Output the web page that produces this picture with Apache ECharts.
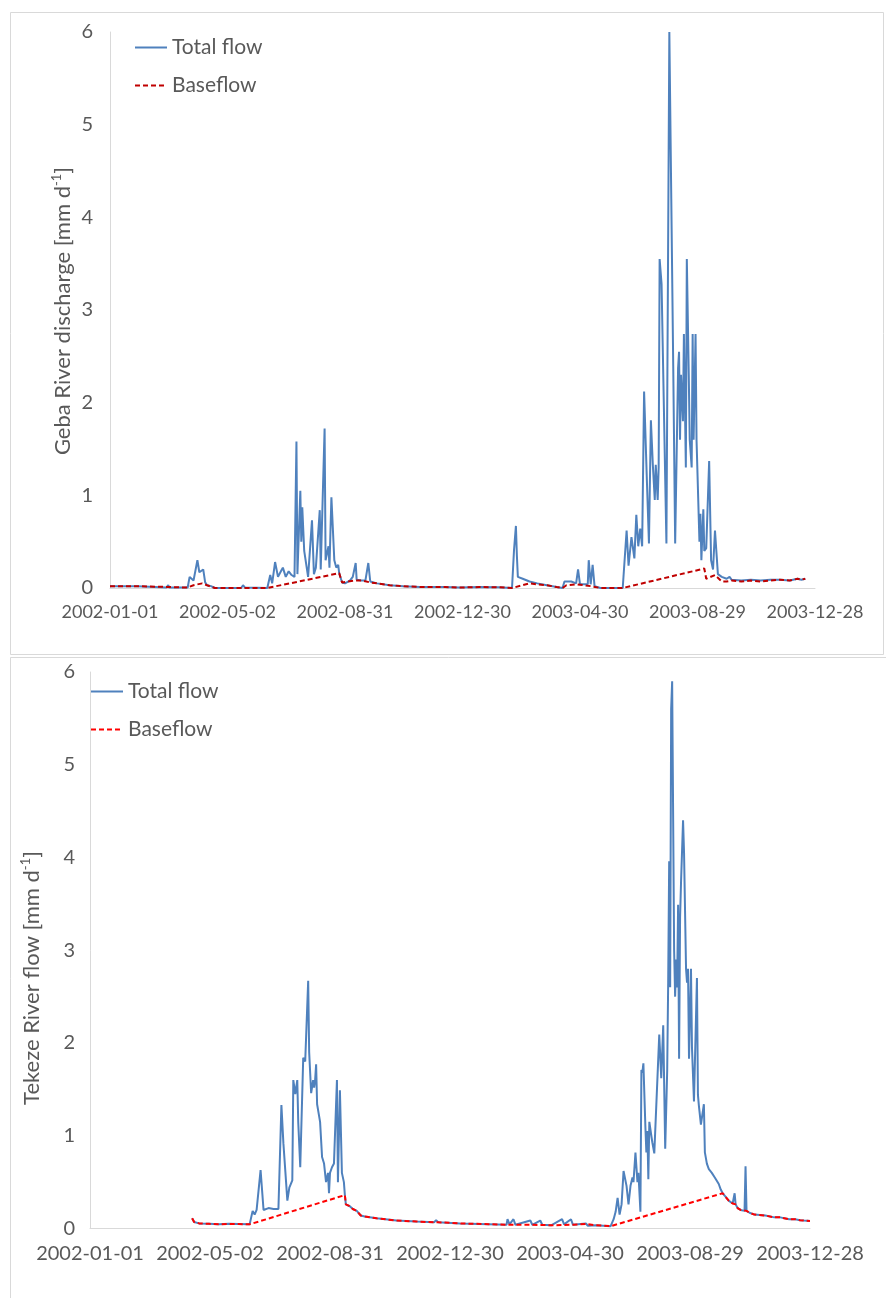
<!DOCTYPE html>
<html>
<head>
<meta charset="utf-8">
<script src="https://cdn.jsdelivr.net/npm/echarts@6/dist/echarts.min.js"></script>
<style>
html,body{margin:0;padding:0;background:#fff;}
#chart{width:886px;height:1298px;}
</style>
</head>
<body>
<div id="chart"></div>
<script>
// x values are day offsets counted from 2002-01-01
const xTickLabels = ['2002-01-01','2002-05-02','2002-08-31','2002-12-30','2003-04-30','2003-08-29','2003-12-28'];
const yTickValues = [0,1,2,3,4,5,6];

const gebaTotal = [
[0,0.02],[28,0.02],[30,0.005],[58,0.005],[60,0.03],[61,0.005],[80,0.005],[82,0.12],[86,0.08],[88,0.1],[90,0.3],[92,0.17],[94,0.15],[96,0.2],[98,0.06],[100,0.03],[104,0.02],[108,0],[135,0],[137,0.03],[139,0.005],[162,0],
[165,0.14],[167,0.05],[170,0.28],[173,0.12],[176,0.18],[178,0.22],[181,0.12],[184,0.18],[187,0.14],[190,0.12],[192,1.58],[193,0.15],[196,1.05],[197,0.5],[198,0.87],[200,0.4],[202,0.4],[204,0.12],[208,0.73],[210,0.15],[212,0.22],[216,0.84],[217,0.2],[221,1.72],[222,0.3],[225,0.45],[226,0.22],[228,0.98],[231,0.3],[233,0.22],[235,0.25],[236,0.16],[239,0.06],[242,0.05],[247,0.08],[250,0.12],[253,0.27],[254,0.09],[259,0.08],[263,0.08],[266,0.27],[268,0.07],[275,0.05],[288,0.03],[302,0.02],[319,0.012],[321,0.025],[323,0.01],[345,0.01],[360,0.005],[380,0.01],[400,0.008],[414,0],
[416,0.4],[418,0.67],[419,0.35],[420,0.12],[425,0.1],[432,0.07],[440,0.05],[450,0.03],[460,0.01],[466,0],[468,0.07],[475,0.07],[480,0.05],[482,0.2],[484,0.04],[492,0.04],[493,0.3],[495,0.04],[497,0.25],[499,0.02],[505,0],[528,0],
[532,0.62],[534,0.24],[537,0.55],[540,0.32],[542,0.79],[544,0.45],[546,0.64],[548,0.45],[550,2.12],[553,1.12],[555,0.48],[557,1.81],[559,1.33],[561,0.95],[562,1.33],[564,0.95],[565,1.3],[566,3.55],[568,3.28],[573,0.48],[576,6.0],[578,4.2],[580,2.4],[582,0.48],[583,0.5],[585,2.37],[586,2.55],[587,1.6],[588,2.3],[590,1.8],[591,2.74],[593,1.3],[594,3.55],[596,2.3],[597,1.6],[599,1.3],[600,2.74],[601,1.6],[603,2.74],[604,1.6],[607,0.5],[608,0.8],[609,0.3],[611,0.85],[612,0.4],[614,0.43],[617,1.37],[619,0.3],[621,0.2],[623,0.62],[626,0.15],[630,0.12],[635,0.1],[638,0.12],[640,0.09],[650,0.08],[660,0.09],[670,0.08],[680,0.09],[690,0.09],[700,0.08],[708,0.1],[712,0.09],[714,0.11],[716,0.1]
];
const gebaBase = [
[0,0.02],[28,0.02],[30,0.005],[80,0.005],[86,0.03],[95,0.05],[100,0.03],[108,0],[162,0],[236,0.16],[239,0.06],[245,0.07],[252,0.08],[260,0.08],[268,0.06],[275,0.05],[288,0.03],[302,0.02],[319,0.012],[345,0.01],[360,0.005],[380,0.01],[400,0.008],[414,0],[432,0.05],[440,0.04],[450,0.03],[460,0.01],[466,0],[470,0.03],[480,0.04],[488,0.03],[495,0.02],[505,0],[528,0],[612,0.21],[614,0.1],[623,0.14],[630,0.07],[635,0.07],[640,0.08],[650,0.07],[660,0.08],[670,0.07],[680,0.08],[690,0.09],[700,0.08],[708,0.1],[712,0.09],[716,0.1]
];
const tekezeTotal = [
[103,0.11],[105,0.07],[110,0.055],[120,0.05],[130,0.045],[140,0.05],[150,0.048],[161,0.045],[164,0.19],[166,0.15],[168,0.2],[172,0.63],[174,0.63],[175,0.2],[180,0.22],[185,0.21],[190,0.21],[193,1.33],[195,0.92],[197,0.9],[199,0.3],[201,0.44],[204,0.52],[205,1.6],[207,1.45],[209,1.6],[210,1.14],[212,0.66],[215,1.84],[217,1.8],[220,2.67],[221,1.9],[223,1.46],[225,1.6],[226,1.52],[227,1.6],[228,1.77],[229,1.34],[232,1.15],[234,0.77],[236,0.7],[238,0.5],[240,0.6],[241,0.38],[242,0.6],[244,0.66],[246,0.7],[249,1.6],[250,0.5],[252,1.49],[254,0.6],[256,0.5],[257,0.36],[258,0.26],[262,0.24],[265,0.21],[269,0.19],[273,0.14],[277,0.13],[289,0.11],[309,0.086],[329,0.075],[347,0.068],[349,0.09],[351,0.068],[373,0.054],[402,0.047],[420,0.04],[421,0.1],[423,0.045],[427,0.1],[429,0.04],[444,0.086],[446,0.04],[454,0.086],[456,0.04],[465,0.035],[476,0.1],[478,0.045],[485,0.1],[487,0.04],[500,0.054],[502,0.03],[510,0.035],[525,0.025],
[528,0.1],[530,0.18],[532,0.33],[534,0.15],[536,0.26],[538,0.62],[540,0.62],[541,0.46],[543,0.26],[545,0.46],[547,0.55],[548,0.5],[550,0.82],[552,0.5],[553,0.6],[555,0.18],[556,1.71],[557,1.68],[558,1.78],[560,1.1],[561,0.82],[562,1.05],[563,0.53],[564,1.15],[566,1.0],[567,0.93],[569,0.81],[574,2.09],[576,1.62],[577,1.62],[578,2.19],[580,0.86],[582,1.7],[583,2.65],[584,3.96],[585,2.6],[586,5.6],[587,5.9],[588,5.9],[589,3.0],[590,2.5],[591,2.9],[592,2.6],[593,3.49],[594,1.83],[595,3.35],[596,3.75],[598,4.4],[599,4.05],[601,2.8],[602,2.65],[603,2.8],[604,1.83],[606,2.8],[607,1.95],[609,1.37],[610,1.35],[612,2.7],[613,1.44],[614,1.32],[616,1.12],[618,1.12],[619,1.34],[620,0.82],[622,0.7],[624,0.64],[627,0.6],[630,0.55],[632,0.56],[634,0.48],[636,0.42],[638,0.38],[641,0.34],[644,0.3],[646,0.28],[648,0.27],[650,0.38],[651,0.26],[653,0.22],[656,0.2],[658,0.19],[660,0.19],[661,0.67],[662,0.19],[665,0.17],[670,0.15],[681,0.14],[690,0.12],[696,0.12],[705,0.1],[711,0.1],[716,0.09],[720,0.085],[726,0.08]
];
const tekezeBase = [
[103,0.11],[105,0.07],[110,0.055],[120,0.05],[130,0.045],[140,0.05],[150,0.048],[161,0.045],[257,0.36],[258,0.26],[262,0.24],[265,0.21],[269,0.19],[273,0.14],[277,0.13],[289,0.11],[309,0.086],[329,0.075],[347,0.068],[351,0.068],[373,0.054],[402,0.047],[420,0.04],[429,0.04],[446,0.04],[465,0.035],[487,0.04],[500,0.05],[502,0.03],[510,0.035],[525,0.025],[638,0.38],[641,0.34],[644,0.3],[646,0.28],[648,0.27],[651,0.26],[653,0.22],[656,0.2],[658,0.19],[662,0.19],[665,0.17],[670,0.15],[681,0.14],[690,0.12],[696,0.12],[705,0.1],[711,0.1],[716,0.09],[720,0.085],[726,0.08]
];

const FONT = 'Lato, "Open Sans", sans-serif';
const TXT = '#595959';
const AXIS = '#d9d9d9';
const BLUE = '#4f81bd';

function xAxisCfg(gi, fs) {
  return {
    type: 'value', gridIndex: gi, min: 0, max: 726, interval: 121,
    axisLine: { show: true, lineStyle: { color: AXIS, width: 1 } },
    axisTick: { show: false }, splitLine: { show: false },
    axisLabel: { fontSize: fs, color: TXT, fontFamily: FONT, margin: 15,
      formatter: v => xTickLabels[Math.round(v / 121)] || '' }
  };
}
function yAxisCfg(gi, margin) {
  return {
    type: 'value', gridIndex: gi, min: yTickValues[0], max: yTickValues[yTickValues.length - 1], interval: 1,
    axisLine: { show: true, lineStyle: { color: AXIS, width: 1 } },
    axisTick: { show: false }, splitLine: { show: false },
    axisLabel: { fontSize: 20, color: TXT, fontFamily: FONT, margin: margin }
  };
}
function lineSeries(name, data, idx, color, dashed) {
  return {
    type: 'line', name: name, data: data, xAxisIndex: idx, yAxisIndex: idx,
    symbol: 'none', showSymbol: false, animation: false, silent: true,
    lineStyle: { color: color, width: 2, type: dashed ? [5, 3] : 'solid' },
    itemStyle: { color: color }
  };
}
function legendCfg(names, left, top) {
  return {
    data: names, orient: 'vertical', left: left, top: top, padding: 0,
    itemWidth: 32, itemHeight: 14, itemGap: 17, selectedMode: false,
    itemStyle: { opacity: 0, borderWidth: 0 },
    formatter: n => n.split('|')[0],
    textStyle: { fontSize: 21, color: TXT, fontFamily: FONT }
  };
}
function titleText(x, y, main) {
  return {
    type: 'text', x: x, y: y, rotation: Math.PI / 2,
    style: {
      text: '{a|' + main + ' [mm d}{s|-1}{a|]}',
      align: 'center', verticalAlign: 'middle',
      rich: {
        a: { fontSize: 22, fontFamily: FONT, fill: TXT, lineHeight: 26, verticalAlign: 'middle' },
        s: { fontSize: 13, fontFamily: FONT, fill: TXT, lineHeight: 14, verticalAlign: 'top' }
      }
    }
  };
}

const chart = echarts.init(document.getElementById('chart'), null, { renderer: 'canvas' });
chart.setOption({
  backgroundColor: '#ffffff',
  animation: false,
  grid: [
    { left: 110, right: 71, top: 32, bottom: 710 },
    { left: 90, right: 76, top: 672, bottom: 69.5 }
  ],
  xAxis: [xAxisCfg(0, 18), xAxisCfg(1, 20)],
  yAxis: [yAxisCfg(0, 17), yAxisCfg(1, 15)],
  legend: [
    legendCfg(['Total flow|g', 'Baseflow|g'], 134, 37),
    legendCfg(['Total flow|t', 'Baseflow|t'], 90, 681)
  ],
  series: [
    lineSeries('Total flow|g', gebaTotal, 0, BLUE, false),
    lineSeries('Baseflow|g', gebaBase, 0, '#c00000', true),
    lineSeries('Total flow|t', tekezeTotal, 1, BLUE, false),
    lineSeries('Baseflow|t', tekezeBase, 1, '#ff0000', true)
  ],
  graphic: [
    { type: 'rect', shape: { x: 10.5, y: 12.5, width: 873, height: 642 }, style: { fill: 'none', stroke: AXIS, lineWidth: 1 }, silent: true },
    { type: 'rect', shape: { x: 10.5, y: 657.5, width: 900, height: 700 }, style: { fill: 'none', stroke: AXIS, lineWidth: 1 }, silent: true },
    titleText(63, 311, 'Geba River discharge'),
    titleText(32, 978, 'Tekeze River flow')
  ]
});
</script>
</body>
</html>
